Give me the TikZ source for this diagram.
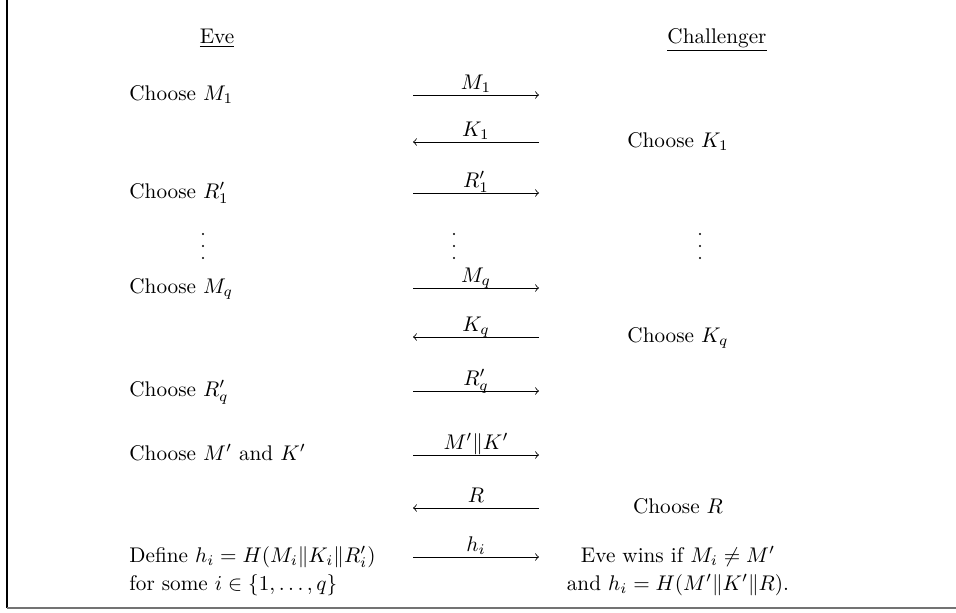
\documentclass[tikz,border=0pt]{standalone}
\usepackage{amsmath,amssymb}
\begin{document}
\begin{tikzpicture}[x=0.4717pt,y=-0.4717pt,
  ltxt/.style={inner sep=0pt, anchor=base west},
  ctxt/.style={inner sep=0pt, anchor=base},
  msg/.style={->, line width=0.4pt},
  lab/.style={inner sep=0pt, anchor=base, yshift=2.8pt},
  dotc/.style={fill=black, draw=none}]
\useasboundingbox (0,0) rectangle (956,613);
% frame
\coordinate (ftop) at (7,0);
\coordinate (fcorner) at (7,608);
\coordinate (fright) at (956,608);
\draw[line width=0.7pt] (ftop) -- (fcorner);
\draw[line width=1pt, black!55] (fcorner) -- (fright);
% headings
\node[ctxt] (eve) at (217,43) {\underline{Eve}};
\node[ctxt] (chal) at (717,43) {\underline{Challenger}};
% row 1
\node[ltxt] (l1) at (129,100) {Choose $M_1$};
\coordinate (a1s) at (413,95); \coordinate (a1e) at (539,95);
\draw[msg] (a1s) -- node[lab] (m1) {$M_1$} (a1e);
% row 2
\node[ctxt] (r2) at (678,147) {Choose $K_1$};
\coordinate (a2s) at (413,142); \coordinate (a2e) at (539,142);
\draw[msg] (a2e) -- node[lab] (k1) {$K_1$} (a2s);
% row 3
\node[ltxt] (l3) at (129,198) {Choose $R'_1$};
\coordinate (a3s) at (413,193); \coordinate (a3e) at (539,193);
\draw[msg] (a3s) -- node[lab] (rr1) {$R'_1$} (a3e);
% dots
\foreach \x in {203,454,700}{
  \foreach \y in {234,246,258}{
    \fill[dotc] (\x,\y) circle (1.15);
  }
}
% row 4
\node[ltxt] (l4) at (129,293) {Choose $M_q$};
\coordinate (a4s) at (413,288); \coordinate (a4e) at (539,288);
\draw[msg] (a4s) -- node[lab] (mq) {$M_q$} (a4e);
% row 5
\node[ctxt] (r5) at (678,342) {Choose $K_q$};
\coordinate (a5s) at (413,337); \coordinate (a5e) at (539,337);
\draw[msg] (a5e) -- node[lab] (kq) {$K_q$} (a5s);
% row 6
\node[ltxt] (l6) at (129,396) {Choose $R'_q$};
\coordinate (a6s) at (413,391); \coordinate (a6e) at (539,391);
\draw[msg] (a6s) -- node[lab] (rrq) {$R'_q$} (a6e);
% row 7
\node[ltxt] (l7) at (129,460) {Choose $M'$ and $K'$};
\coordinate (a7s) at (413,455); \coordinate (a7e) at (539,455);
\draw[msg] (a7s) -- node[lab] (mk) {$M'\|K'$} (a7e);
% row 8
\node[ctxt] (r8) at (678,513) {Choose $R$};
\coordinate (a8s) at (413,508); \coordinate (a8e) at (539,508);
\draw[msg] (a8e) -- node[lab] (rr) {$R$} (a8s);
% row 9
\node[ltxt] (l9) at (129,562) {Define $h_i = H(M_i\|K_i\|R'_i)$};
\coordinate (a9s) at (413,557); \coordinate (a9e) at (539,557);
\draw[msg] (a9s) -- node[lab] (hi) {$h_i$} (a9e);
\node[ctxt] (r9) at (678,562) {Eve wins if $M_i \neq M'$};
% row 10
\node[ltxt] (l10) at (129,590) {for some $i \in \{1,\ldots,q\}$};
\node[ctxt] (r10) at (678,590) {and $h_i = H(M'\|K'\|R)$.};
\end{tikzpicture}
\end{document}
